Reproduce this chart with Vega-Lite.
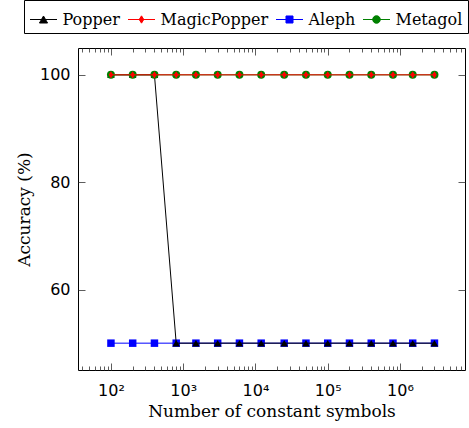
{
  "$schema": "https://vega.github.io/schema/vega-lite/v6.json",
  "width": 387,
  "height": 322,
  "autosize": {"type": "none"},
  "padding": {"left": 78, "top": 48, "right": 4, "bottom": 58},
  "background": "white",
  "data": {
    "values": [
      {"n": 100, "system": "Popper", "accuracy": 100},
      {"n": 200, "system": "Popper", "accuracy": 100},
      {"n": 400, "system": "Popper", "accuracy": 100},
      {"n": 800, "system": "Popper", "accuracy": 50},
      {"n": 1500, "system": "Popper", "accuracy": 50},
      {"n": 3000, "system": "Popper", "accuracy": 50},
      {"n": 6000, "system": "Popper", "accuracy": 50},
      {"n": 12000, "system": "Popper", "accuracy": 50},
      {"n": 25000, "system": "Popper", "accuracy": 50},
      {"n": 50000, "system": "Popper", "accuracy": 50},
      {"n": 100000, "system": "Popper", "accuracy": 50},
      {"n": 200000, "system": "Popper", "accuracy": 50},
      {"n": 400000, "system": "Popper", "accuracy": 50},
      {"n": 800000, "system": "Popper", "accuracy": 50},
      {"n": 1500000, "system": "Popper", "accuracy": 50},
      {"n": 3000000, "system": "Popper", "accuracy": 50},
      {"n": 100, "system": "MagicPopper", "accuracy": 100},
      {"n": 200, "system": "MagicPopper", "accuracy": 100},
      {"n": 400, "system": "MagicPopper", "accuracy": 100},
      {"n": 800, "system": "MagicPopper", "accuracy": 100},
      {"n": 1500, "system": "MagicPopper", "accuracy": 100},
      {"n": 3000, "system": "MagicPopper", "accuracy": 100},
      {"n": 6000, "system": "MagicPopper", "accuracy": 100},
      {"n": 12000, "system": "MagicPopper", "accuracy": 100},
      {"n": 25000, "system": "MagicPopper", "accuracy": 100},
      {"n": 50000, "system": "MagicPopper", "accuracy": 100},
      {"n": 100000, "system": "MagicPopper", "accuracy": 100},
      {"n": 200000, "system": "MagicPopper", "accuracy": 100},
      {"n": 400000, "system": "MagicPopper", "accuracy": 100},
      {"n": 800000, "system": "MagicPopper", "accuracy": 100},
      {"n": 1500000, "system": "MagicPopper", "accuracy": 100},
      {"n": 3000000, "system": "MagicPopper", "accuracy": 100},
      {"n": 100, "system": "Aleph", "accuracy": 50},
      {"n": 200, "system": "Aleph", "accuracy": 50},
      {"n": 400, "system": "Aleph", "accuracy": 50},
      {"n": 800, "system": "Aleph", "accuracy": 50},
      {"n": 1500, "system": "Aleph", "accuracy": 50},
      {"n": 3000, "system": "Aleph", "accuracy": 50},
      {"n": 6000, "system": "Aleph", "accuracy": 50},
      {"n": 12000, "system": "Aleph", "accuracy": 50},
      {"n": 25000, "system": "Aleph", "accuracy": 50},
      {"n": 50000, "system": "Aleph", "accuracy": 50},
      {"n": 100000, "system": "Aleph", "accuracy": 50},
      {"n": 200000, "system": "Aleph", "accuracy": 50},
      {"n": 400000, "system": "Aleph", "accuracy": 50},
      {"n": 800000, "system": "Aleph", "accuracy": 50},
      {"n": 1500000, "system": "Aleph", "accuracy": 50},
      {"n": 3000000, "system": "Aleph", "accuracy": 50},
      {"n": 100, "system": "Metagol", "accuracy": 100},
      {"n": 200, "system": "Metagol", "accuracy": 100},
      {"n": 400, "system": "Metagol", "accuracy": 100},
      {"n": 800, "system": "Metagol", "accuracy": 100},
      {"n": 1500, "system": "Metagol", "accuracy": 100},
      {"n": 3000, "system": "Metagol", "accuracy": 100},
      {"n": 6000, "system": "Metagol", "accuracy": 100},
      {"n": 12000, "system": "Metagol", "accuracy": 100},
      {"n": 25000, "system": "Metagol", "accuracy": 100},
      {"n": 50000, "system": "Metagol", "accuracy": 100},
      {"n": 100000, "system": "Metagol", "accuracy": 100},
      {"n": 200000, "system": "Metagol", "accuracy": 100},
      {"n": 400000, "system": "Metagol", "accuracy": 100},
      {"n": 800000, "system": "Metagol", "accuracy": 100},
      {"n": 1500000, "system": "Metagol", "accuracy": 100},
      {"n": 3000000, "system": "Metagol", "accuracy": 100}
    ]
  },
  "layer": [
    {
      "transform": [{"filter": "datum.system === 'Aleph'"}],
      "mark": {"type": "line", "strokeWidth": 1, "point": {"filled": true, "shape": "square", "size": 56}},
      "encoding": {
        "x": {"field": "n", "type": "quantitative", "scale": {"type": "log", "domain": [35, 7940000], "nice": false}, "axis": null},
        "y": {"field": "accuracy", "type": "quantitative", "scale": {"domain": [45, 105], "nice": false, "zero": false}, "axis": null},
        "color": {
          "field": "system",
          "type": "nominal",
          "scale": {"domain": ["Popper", "MagicPopper", "Aleph", "Metagol"], "range": ["#000000", "#ff0000", "#0000ff", "#008000"]},
          "legend": {
            "title": null,
            "orient": "none",
            "direction": "horizontal",
            "legendX": -54,
            "legendY": -48,
            "padding": 5.5,
            "strokeColor": "black",
            "fillColor": "white",
            "symbolSize": 729,
            "symbolStrokeWidth": 1,
            "labelOffset": 5,
            "columnPadding": 5,
            "labelFont": "DejaVu Serif",
            "labelFontSize": 16,
            "labelColor": "black",
            "labelBaseline": "middle",
            "labelLimit": 300,
            "encode": {
              "labels": {
                "update": {
                  "font": {"value": "DejaVu Serif"},
                  "fontSize": {"value": 16}
                }
              },
              "symbols": {
                "update": {
                  "shape": {"signal": "datum.value === 'Popper' ? 'M-1,0H1M0,-0.26L0.3,0.26L-0.3,0.26Z' : datum.value === 'MagicPopper' ? 'M-1,0H1M0,-0.27L0.17,0L0,0.27L-0.17,0Z' : datum.value === 'Aleph' ? 'M-1,0H1M-0.26,-0.26H0.26V0.26H-0.26Z' : 'M-1,0H1M0.28,0A0.28,0.28 0 1,1 -0.28,0A0.28,0.28 0 1,1 0.28,0Z'"},
                  "fill": {"signal": "scale('color', datum.value)"},
                  "stroke": {"signal": "scale('color', datum.value)"},
                  "strokeWidth": {"value": 1},
                  "opacity": {"value": 1}
                }
              }
            }
          }
        }
      }
    },
    {
      "transform": [{"filter": "datum.system === 'Popper'"}],
      "mark": {"type": "line", "strokeWidth": 1, "point": {"filled": true, "shape": "triangle-up", "size": 56}},
      "encoding": {
        "x": {"field": "n", "type": "quantitative", "scale": {"type": "log", "domain": [35, 7940000], "nice": false}, "axis": null},
        "y": {"field": "accuracy", "type": "quantitative", "scale": {"domain": [45, 105], "nice": false, "zero": false}, "axis": null},
        "color": {"field": "system", "type": "nominal"}
      }
    },
    {
      "transform": [{"filter": "datum.system === 'Metagol'"}],
      "mark": {"type": "line", "strokeWidth": 1, "point": {"filled": true, "shape": "circle", "size": 64}},
      "encoding": {
        "x": {"field": "n", "type": "quantitative", "scale": {"type": "log", "domain": [35, 7940000], "nice": false}, "axis": null},
        "y": {"field": "accuracy", "type": "quantitative", "scale": {"domain": [45, 105], "nice": false, "zero": false}, "axis": null},
        "color": {"field": "system", "type": "nominal"}
      }
    },
    {
      "transform": [{"filter": "datum.system === 'MagicPopper'"}],
      "mark": {"type": "line", "strokeWidth": 1, "point": {"filled": true, "shape": "M0,-1L0.62,0L0,1L-0.62,0Z", "size": 52}},
      "encoding": {
        "x": {"field": "n", "type": "quantitative", "scale": {"type": "log", "domain": [35, 7940000], "nice": false}, "axis": null},
        "y": {"field": "accuracy", "type": "quantitative", "scale": {"domain": [45, 105], "nice": false, "zero": false}, "axis": null},
        "color": {"field": "system", "type": "nominal"}
      }
    },
    {
      "mark": {"type": "point", "opacity": 0},
      "encoding": {
        "x": {
          "field": "n", "type": "quantitative",
          "scale": {"type": "log", "domain": [35, 7940000], "nice": false},
          "axis": {
            "orient": "bottom",
            "values": [100, 1000, 10000, 100000, 1000000],
            "tickSize": -7,
            "labelPadding": 19,
            "labelFont": "DejaVu Sans",
            "labelFontSize": 16,
            "labelExpr": "'10' + substring('⁰¹²³⁴⁵⁶⁷⁸⁹', round(log(datum.value) / LN10), round(log(datum.value) / LN10) + 1)",
            "title": "Number of constant symbols",
            "titleFont": "DejaVu Serif",
            "titleFontSize": 17,
            "titleFontWeight": "normal",
            "titlePadding": 5
          }
        },
        "y": {
          "field": "accuracy", "type": "quantitative",
          "scale": {"domain": [45, 105], "nice": false, "zero": false},
          "axis": {
            "orient": "left",
            "values": [60, 80, 100],
            "tickSize": -7,
            "labelPadding": 15,
            "labelFont": "DejaVu Sans",
            "labelFontSize": 16,
            "title": "Accuracy (%)",
            "titleFont": "DejaVu Serif",
            "titleFontSize": 17,
            "titleFontWeight": "normal",
            "titlePadding": 6
          }
        }
      }
    },
    {
      "mark": {"type": "point", "opacity": 0},
      "encoding": {
        "x": {
          "field": "n", "type": "quantitative",
          "scale": {"type": "log", "domain": [35, 7940000], "nice": false},
          "axis": {
            "orient": "bottom",
            "values": [40, 50, 60, 70, 80, 90, 200, 300, 400, 500, 600, 700, 800, 900, 2000, 3000, 4000, 5000, 6000, 7000, 8000, 9000, 20000, 30000, 40000, 50000, 60000, 70000, 80000, 90000, 200000, 300000, 400000, 500000, 600000, 700000, 800000, 900000, 2000000, 3000000, 4000000, 5000000, 6000000, 7000000],
            "tickSize": -4,
            "labels": false,
            "title": null
          }
        },
        "y": {"field": "accuracy", "type": "quantitative", "scale": {"domain": [45, 105], "nice": false, "zero": false}, "axis": null}
      }
    },
    {
      "mark": {"type": "point", "opacity": 0},
      "encoding": {
        "x": {
          "field": "n", "type": "quantitative",
          "scale": {"type": "log", "domain": [35, 7940000], "nice": false},
          "axis": {
            "orient": "top",
            "values": [100, 1000, 10000, 100000, 1000000],
            "tickSize": -7,
            "labels": false,
            "title": null
          }
        },
        "y": {
          "field": "accuracy", "type": "quantitative",
          "scale": {"domain": [45, 105], "nice": false, "zero": false},
          "axis": {
            "orient": "right",
            "values": [60, 80, 100],
            "tickSize": -7,
            "labels": false,
            "title": null
          }
        }
      }
    },
    {
      "mark": {"type": "point", "opacity": 0},
      "encoding": {
        "x": {
          "field": "n", "type": "quantitative",
          "scale": {"type": "log", "domain": [35, 7940000], "nice": false},
          "axis": {
            "orient": "top",
            "values": [40, 50, 60, 70, 80, 90, 200, 300, 400, 500, 600, 700, 800, 900, 2000, 3000, 4000, 5000, 6000, 7000, 8000, 9000, 20000, 30000, 40000, 50000, 60000, 70000, 80000, 90000, 200000, 300000, 400000, 500000, 600000, 700000, 800000, 900000, 2000000, 3000000, 4000000, 5000000, 6000000, 7000000],
            "tickSize": -4,
            "labels": false,
            "title": null
          }
        },
        "y": {"field": "accuracy", "type": "quantitative", "scale": {"domain": [45, 105], "nice": false, "zero": false}, "axis": null}
      }
    }
  ],
  "resolve": {
    "scale": {"x": "shared", "y": "shared", "color": "shared"},
    "axis": {"x": "independent", "y": "independent"}
  },
  "config": {
    "view": {"stroke": "black", "strokeWidth": 1},
    "axis": {
      "domain": false,
      "grid": false,
      "labelFont": "DejaVu Sans",
      "labelFontSize": 16,
      "labelColor": "black",
      "titleFont": "DejaVu Serif",
      "titleFontSize": 17,
      "titleFontWeight": "normal",
      "titleColor": "black",
      "tickColor": "#333333",
      "tickWidth": 0.8
    },
    "legend": {
      "labelFont": "DejaVu Serif",
      "labelFontSize": 16
    }
  }
}
